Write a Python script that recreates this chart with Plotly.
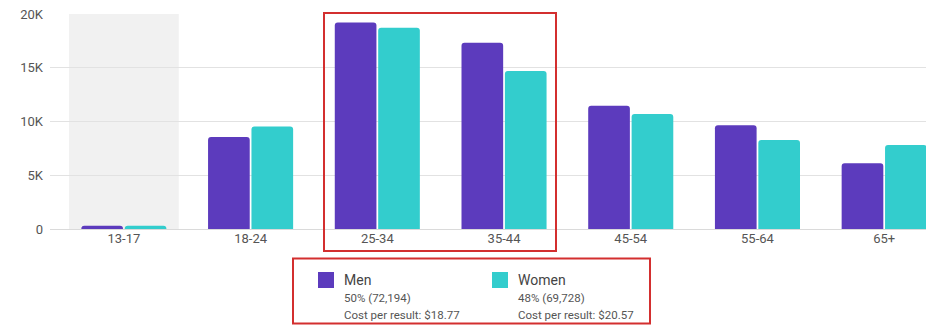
import plotly.graph_objects as go

categories = ["13-17", "18-24", "25-34", "35-44", "45-54", "55-64", "65+"]
men = [300, 8560, 19200, 17330, 11470, 9650, 6110]
women = [300, 9530, 18730, 14700, 10700, 8280, 7810]
ytick_vals = [0, 5000, 10000, 15000, 20000]
ytick_text = ["0", "5K", "10K", "15K", "20K"]
series_names = ["Men", "Women"]
series_share = ["50% (72,194)", "48% (69,728)"]
series_cost = ["Cost per result: $18.77", "Cost per result: $20.57"]
colors = ["#5C3BBD", "#33CDCD"]

W, H = 926, 325
L, R, T, B = 50, 0, 14, 96
PW, PH = W - L - R, H - T - B

def px(x):
    return (x - L) / PW

def py(y):
    return (H - B - y) / PH

fig = go.Figure()
for name, vals, col in zip(series_names, [men, women], colors):
    fig.add_trace(go.Bar(x=categories, y=vals, name=name, marker_color=col,
                         marker_line_width=0, showlegend=False))

shapes = []
# grey band behind first category
shapes.append(dict(type="rect", xref="x", yref="y", x0=-0.433, x1=0.433, y0=0, y1=20000,
                   fillcolor="#F1F1F1", line_width=0, layer="below"))
# red highlight around 25-34 / 35-44
shapes.append(dict(type="rect", xref="paper", yref="paper", x0=px(324), x1=px(556),
                   y0=py(251), y1=py(13), line=dict(color="#D32F2F", width=2)))
# legend box
shapes.append(dict(type="rect", xref="paper", yref="paper", x0=px(293), x1=px(650),
                   y0=py(323.5), y1=py(258.5), line=dict(color="#D32F2F", width=2)))

annotations = []
lx = [318, 492]
for i in range(2):
    shapes.append(dict(type="rect", xref="paper", yref="paper", x0=px(lx[i]), x1=px(lx[i] + 16),
                       y0=py(288), y1=py(272), fillcolor=colors[i], line_width=0))
    annotations.append(dict(xref="paper", yref="paper", x=px(lx[i] + 24), y=py(280),
                            text=series_names[i], showarrow=False, xanchor="left", yanchor="middle",
                            font=dict(size=14, color="#444444")))
    annotations.append(dict(xref="paper", yref="paper", x=px(lx[i] + 24), y=py(298),
                            text=series_share[i], showarrow=False, xanchor="left", yanchor="middle",
                            font=dict(size=11.5, color="#555555")))
    annotations.append(dict(xref="paper", yref="paper", x=px(lx[i] + 24), y=py(315),
                            text=series_cost[i], showarrow=False, xanchor="left", yanchor="middle",
                            font=dict(size=11.5, color="#555555")))

fig.update_layout(
    width=W, height=H,
    margin=dict(l=L, r=R, t=T, b=B, pad=0),
    paper_bgcolor="white", plot_bgcolor="white",
    barmode="group", bargap=0.315, bargroupgap=0.04,
    barcornerradius=3,
    font=dict(family="Roboto, Arial, sans-serif", color="#555555"),
    shapes=shapes, annotations=annotations,
    xaxis=dict(range=[-0.583, 6.33], showgrid=False, zeroline=False, showline=False,
               ticks="", tickfont=dict(size=13, color="#555555")),
    yaxis=dict(range=[0, 20000], tickvals=ytick_vals, ticktext=ytick_text,
               showgrid=True, gridcolor="#E2E2E2", gridwidth=1, zeroline=True,
               zerolinecolor="#DADADA", zerolinewidth=1, showline=False, ticks="",
               ticklabelstandoff=6,
               tickfont=dict(size=13, color="#555555")),
)

fig.write_html("out.html")
